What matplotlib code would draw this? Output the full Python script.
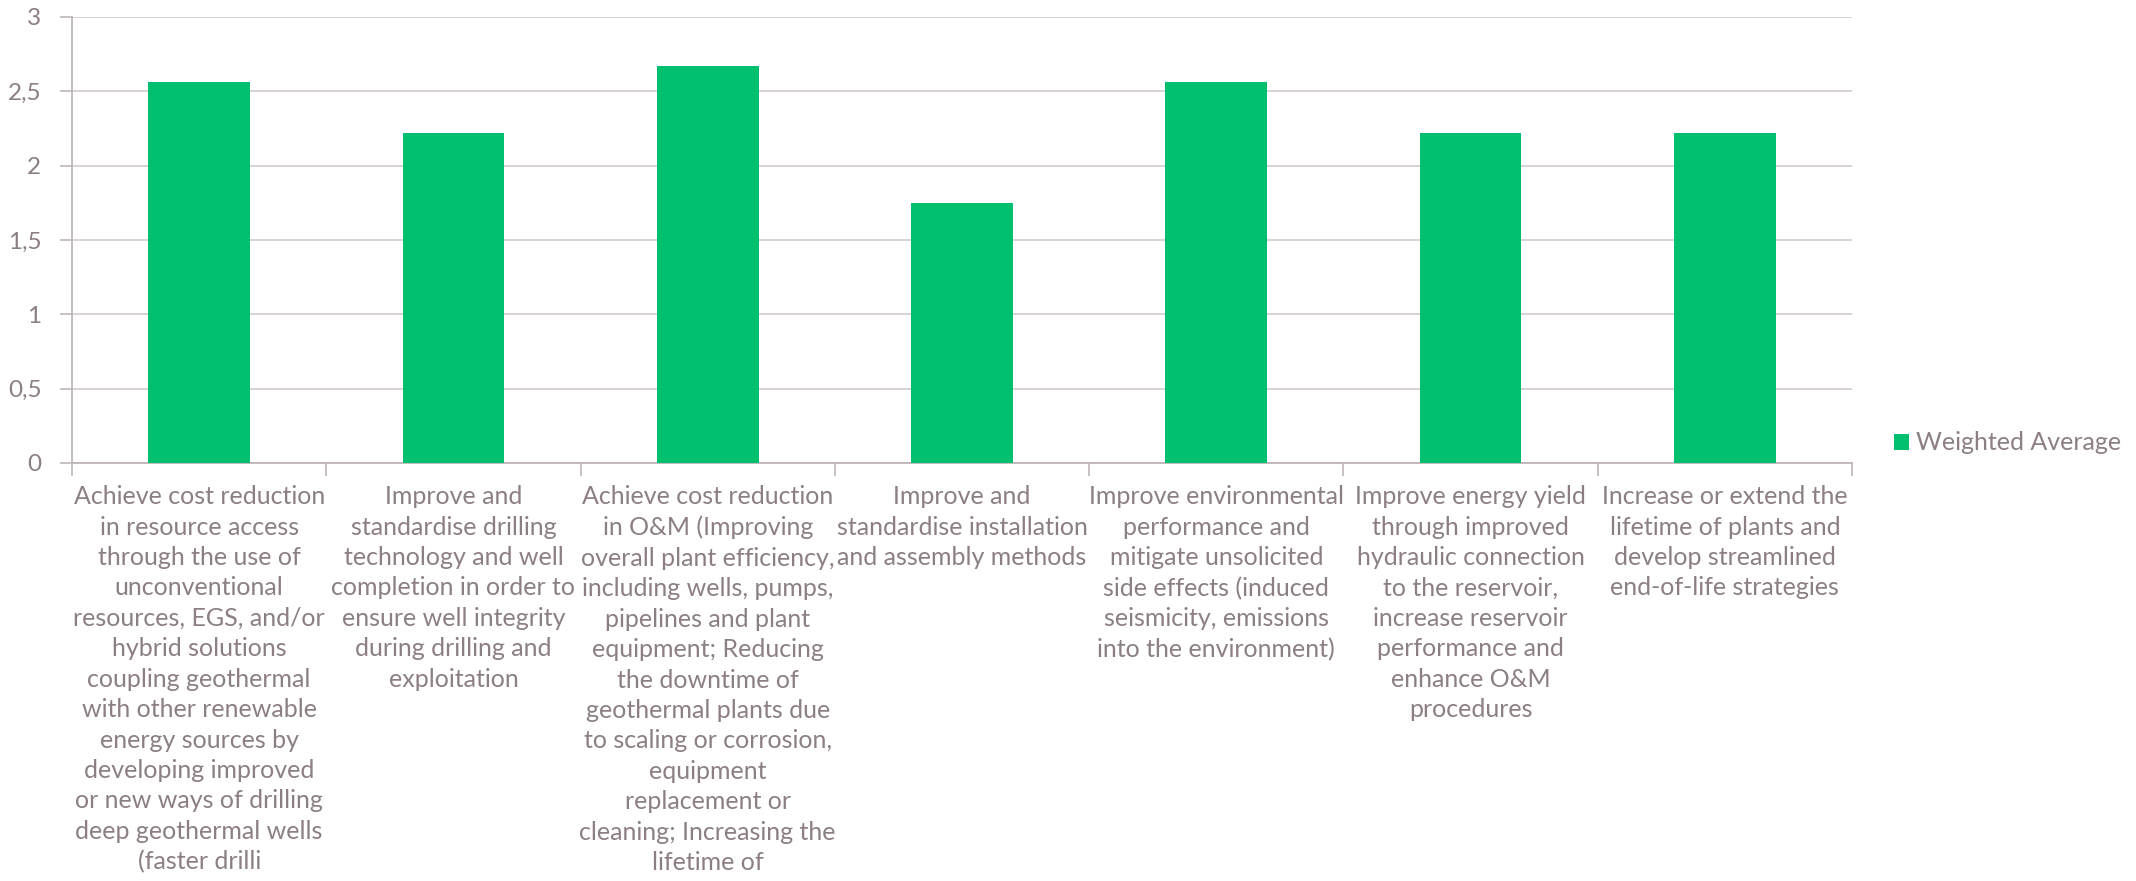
import matplotlib
matplotlib.use("Agg")
import matplotlib.pyplot as plt
from matplotlib.patches import Patch
import numpy as np

plt.rcParams['font.family'] = ['Lato', 'DejaVu Sans']

categories = [
    "Achieve cost reduction\nin resource access\nthrough the use of\nunconventional\nresources, EGS, and/or\nhybrid solutions\ncoupling geothermal\nwith other renewable\nenergy sources by\ndeveloping improved\nor new ways of drilling\ndeep geothermal wells\n(faster drilli",
    "Improve and\nstandardise drilling\ntechnology and well\ncompletion in order to\nensure well integrity\nduring drilling and\nexploitation",
    "Achieve cost reduction\nin O&M (Improving\noverall plant efficiency,\nincluding wells, pumps,\npipelines and plant\nequipment; Reducing\nthe downtime of\ngeothermal plants due\nto scaling or corrosion,\nequipment\nreplacement or\ncleaning; Increasing the\nlifetime of",
    "Improve and\nstandardise installation\nand assembly methods",
    "Improve environmental\nperformance and\nmitigate unsolicited\nside effects (induced\nseismicity, emissions\ninto the environment)",
    "Improve energy yield\nthrough improved\nhydraulic connection\nto the reservoir,\nincrease reservoir\nperformance and\nenhance O&M\nprocedures",
    "Increase or extend the\nlifetime of plants and\ndevelop streamlined\nend-of-life strategies",
]
weighted_average = [2.56, 2.22, 2.67, 1.75, 2.56, 2.22, 2.22]
series_name = "Weighted Average"
y_ticks = [0, 0.5, 1, 1.5, 2, 2.5, 3]
y_tick_labels = ["0", "0,5", "1", "1,5", "2", "2,5", "3"]

BAR = "#00BF6F"
TEXT = "#8C7F83"
GRID = "#D6CFD1"
AXIS = "#BFB5B8"

fig = plt.figure(figsize=(21.36, 8.81), dpi=100)
ax = fig.add_axes([72 / 2136, 1 - 463 / 881, (1852 - 72) / 2136, (463 - 17) / 881])

x = np.arange(len(categories))
ax.bar(x, weighted_average, width=0.4, color=BAR, zorder=3, label=series_name)

ax.set_xlim(-0.5, len(categories) - 0.5)
ax.set_ylim(0, 3)

ax.set_yticks(y_ticks)
ax.set_yticklabels(y_tick_labels)
ax.yaxis.grid(True, color=GRID, linewidth=1.3, zorder=0)
ax.tick_params(axis='y', length=9, width=1.2, color=AXIS, labelcolor=TEXT,
               labelsize=17.5, pad=13)

ax.set_xticks(x)
ax.set_xticklabels(categories, fontsize=18, color=TEXT, linespacing=1.39)
ax.set_xticks(np.arange(len(categories) + 1) - 0.5, minor=True)
ax.tick_params(axis='x', which='major', length=0, pad=16)
ax.tick_params(axis='x', which='minor', length=9, width=1.2, color=AXIS)

for side in ("top", "right"):
    ax.spines[side].set_visible(False)
for side in ("left", "bottom"):
    ax.spines[side].set_color(AXIS)
    ax.spines[side].set_linewidth(1.3)

handle = Patch(facecolor=BAR, edgecolor="none")
fig.legend([handle], [series_name], loc="center left",
           bbox_to_anchor=(1894 / 2136, 1 - 443 / 881), frameon=False,
           fontsize=18, labelcolor=TEXT, handlelength=0.6, handleheight=0.6,
           handletextpad=0.3, borderpad=0, borderaxespad=0)

fig.savefig("out.png", dpi=100, facecolor="white")
